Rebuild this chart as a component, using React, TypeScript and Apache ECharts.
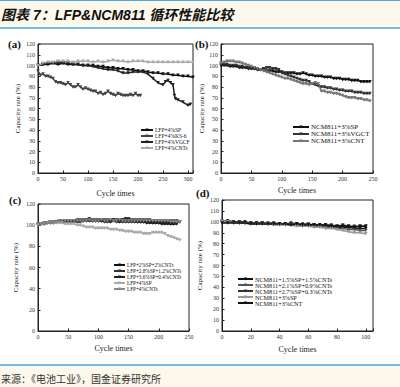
import React, { useEffect, useRef } from "react";
import * as echarts from "echarts";

// ---------- data ----------
// (a) LFP, cycles every 10 (SP, CNTs), every 5 (KS-6), explicit (VGCF)
const aSP = [100,101,101,102,101,102,101,101,101,100,100,100,99,99,98,98,97,97,96,96,95,95,94,93,93,92,92,91,91,90,90,89];
const aKS6 = [95,91,92,90,90,89,88,85,84,84,83,82,84,82,80,80,82,80,78,79,78,77,76,76,74,75,73,74,76,74,73,72,74,73,72,72,72,73,72,74,72,72];
const aVGCFCycles = [0,10,20,30,40,50,60,70,80,90,100,110,120,130,140,150,160,170,180,190,200,210,220,230,240,250,255,260,265,270,273,275,280,290,300,305];
const aVGCF = [100,101,102,102,103,102,102,101,101,100,100,99,98,97,96,96,95,93,93,94,94,94,92,88,84,82,85,86,84,82,72,69,68,66,63,64];
const aCNTs = [100,102,103,103,104,104,104,103,104,104,104,103,104,103,104,105,104,104,103,104,104,104,103,103,103,103,103,103,103,103,103,103];

// (b) NCM811, cycles every 5
const bSP = [100,100,100,99,99,99,98,98,98,97,97,97,96,96,96,95,95,95,94,94,94,93,93,93,93,92,92,93,92,91,91,90,90,90,89,89,89,88,88,88,87,87,87,86,86,86,85,85,85,85];
const bVGCF = [101,101,101,100,100,100,99,99,98,98,97,97,96,96,97,98,98,97,97,96,93,92,91,90,89,88,87,86,86,85,83,82,81,80,80,79,79,78,78,77,77,76,76,76,75,75,75,74,74,74];
const bCNT = [102,103,104,104,104,103,103,102,101,100,99,98,97,96,95,94,93,92,91,90,89,88,88,87,86,85,84,83,83,82,83,84,83,76,76,75,75,74,74,73,72,71,70,70,70,69,69,68,68,67];

// (c) LFP mixes, cycles every 5
const c1 = [100,101,101,102,102,102,103,103,103,103,103,103,104,104,104,104,104,105,104,104,104,104,104,104,104,105,104,104,105,105,105,104,104,103,103,103,102,102,102,102,102,101,101,101,101,101,101];
const c2 = [101,101,102,102,103,103,103,104,104,104,104,104,104,105,105,105,105,106,105,105,105,105,105,105,105,105,105,105,105,106,106,105,105,105,105,105,105,105,104,104,104,104,104,104,104,104,104,103];
const c3 = [100,101,101,102,102,102,103,103,103,103,103,103,103,103,103,104,104,104,104,104,104,104,103,103,103,104,103,103,103,103,103,103,103,103,103,103,103,103,102,102,102,102,102,102,101,101];
const c4 = [100,101,101,102,102,102,102,102,102,101,101,101,101,100,100,99,98,98,98,97,97,97,97,97,96,96,96,95,95,94,94,94,93,93,93,92,92,92,93,93,93,93,92,90,89,88,87,86];
const c5 = [101,101,102,102,103,103,103,104,104,104,104,104,104,104,104,104,104,105,104,104,104,105,104,104,105,104,104,105,104,104,104,104,104,104,104,104,104,104,104,104,104,104,104,104,103,103,103,103];

// (d) NCM811 mixes, cycles every 4
const d1 = [100,100,100,99,99,99,99,99,98,98,98,98,98,98,97,97,97,96,96,96,95,95,95,94,94,94];
const d2 = [101,100,100,100,99,99,99,99,98,98,98,98,97,97,97,97,96,96,95,95,94,94,93,93,92,92];
const d3 = [100,101,100,100,100,99,99,99,99,99,98,98,99,98,98,98,97,97,97,97,96,97,96,96,96,96];
const d4 = [100,100,99,99,99,98,98,98,98,97,97,97,97,96,96,96,95,95,94,94,93,92,91,90,90,89];
const d5 = [99,99,99,99,99,98,98,98,98,98,98,98,97,98,97,97,97,97,97,96,96,96,96,95,96,96];

const namesA = ["LFP+4%SP", "LFP+4%KS-6", "LFP+4%VGCF", "LFP+4%CNTs"];
const namesB = ["NCM811+3%SP", "NCM811+3%VGCT", "NCM811+3%CNT"];
const namesC = ["LFP+2%SP+2%CNTs", "LFP+2.8%SP+1.2%CNTs", "LFP+3.6%SP+0.4%CNTs", "LFP+4%SP ", "LFP+4%CNTs "];
const namesD = ["NCM811+1.5%SP+1.5%CNTs", "NCM811+2.1%SP+0.9%CNTs", "NCM811+2.7%SP+0.3%CNTs", "NCM811+3%SP ", "NCM811+3%CNT "];

const TITLE = "图表 7：LFP&NCM811 循环性能比较";
const SOURCE = "来源：《电池工业》，国金证券研究所";

const SERIF = "'Liberation Serif', 'DejaVu Serif', serif";

const stepPairs = (vals: number[], step: number) => vals.map((v, i) => [i * step, v]);
const xyPairs = (xs: number[], vals: number[]) => vals.map((v, i) => [xs[i], v]);

function xAx(gi: number, max: number, interval: number, gap: number) {
  return {
    type: "value", gridIndex: gi, min: 0, max, interval,
    name: "Cycle times", nameLocation: "middle", nameGap: gap,
    nameTextStyle: { fontFamily: SERIF, fontSize: 8, color: "#222" },
    axisLine: { show: true, onZero: false, lineStyle: { color: "#222", width: 1 } },
    axisTick: { show: true, inside: true, length: 2.5, lineStyle: { color: "#222" } },
    axisLabel: { fontFamily: SERIF, fontSize: 6, color: "#333", margin: 3,
      formatter: (v: number) => (v % interval === 0 ? String(v) : "") },
    splitLine: { show: false },
  };
}
function yAx(gi: number, interval: number, gap: number) {
  return {
    type: "value", gridIndex: gi, min: 0, max: 120, interval,
    name: "Capacity rate (%)", nameLocation: "middle", nameGap: gap,
    nameTextStyle: { fontFamily: SERIF, fontSize: 7, color: "#222" },
    axisLine: { show: true, onZero: false, lineStyle: { color: "#222", width: 1 } },
    axisTick: { show: true, inside: true, length: 2.5, lineStyle: { color: "#222" } },
    axisLabel: { fontFamily: SERIF, fontSize: 6, color: "#333", margin: 3 },
    splitLine: { show: false },
  };
}
function ser(name: string, gi: number, data: number[][], color: string, width = 1.5) {
  return {
    type: "line", name, xAxisIndex: gi, yAxisIndex: gi, data,
    symbol: "triangle", symbolRotate: 180, symbolSize: 3.5, showSymbol: true,
    lineStyle: { color, width }, itemStyle: { color },
  };
}
function leg(names: string[], left: number, top: number, fs: number, lh: number, iw: number) {
  return {
    data: names, orient: "vertical", left, top, padding: 0, itemGap: 0,
    itemWidth: iw, itemHeight: 4, selectedMode: false,
    textStyle: { fontFamily: SERIF, fontSize: fs, lineHeight: lh, color: "#111", padding: [0, 0, 0, -3] },
  };
}

export default function App() {
  const ref = useRef<HTMLDivElement>(null);
  useEffect(() => {
    if (!ref.current) return;
    const chart = echarts.init(ref.current, undefined, { renderer: "svg" });
    const option = {
      animation: false,
      backgroundColor: "#fff",
      grid: [
        { left: 38, top: 44, width: 155, height: 129, show: true, borderColor: "#222", borderWidth: 1 },
        { left: 221, top: 44, width: 152, height: 129, show: true, borderColor: "#222", borderWidth: 1 },
        { left: 38, top: 204, width: 151, height: 127, show: true, borderColor: "#222", borderWidth: 1 },
        { left: 222, top: 200, width: 151, height: 131, show: true, borderColor: "#222", borderWidth: 1 },
      ],
      xAxis: [xAx(0, 310, 50, 16), xAx(1, 250, 50, 13), xAx(2, 250, 50, 13), xAx(3, 105, 20, 14)],
      yAxis: [yAx(0, 10, 17), yAx(1, 10, 16), yAx(2, 20, 19), yAx(3, 10, 19)],
      legend: [
        leg(namesA, 140, 127, 5.5, 5.7, 12),
        leg(namesB, 292, 123.5, 7, 7, 16),
        leg(namesC, 113, 262, 5.2, 6, 11),
        leg(namesD, 237, 276, 6.2, 5.6, 15),
      ],
      series: [
        ser(namesA[0], 0, stepPairs(aSP, 10), "#111"),
        ser(namesA[1], 0, stepPairs(aKS6, 5), "#444"),
        ser(namesA[2], 0, xyPairs(aVGCFCycles, aVGCF), "#222"),
        ser(namesA[3], 0, stepPairs(aCNTs, 10), "#aaa"),
        ser(namesB[0], 1, stepPairs(bSP, 5), "#111"),
        ser(namesB[1], 1, stepPairs(bVGCF, 5), "#333"),
        ser(namesB[2], 1, stepPairs(bCNT, 5), "#777"),
        ser(namesC[0], 2, stepPairs(c1, 5), "#111"),
        ser(namesC[1], 2, stepPairs(c2, 5), "#333"),
        ser(namesC[2], 2, stepPairs(c3, 5), "#222"),
        ser(namesC[3], 2, stepPairs(c4, 5), "#aaa"),
        ser(namesC[4], 2, stepPairs(c5, 5), "#888"),
        ser(namesD[0], 3, stepPairs(d1, 4), "#111"),
        ser(namesD[1], 3, stepPairs(d2, 4), "#555"),
        ser(namesD[2], 3, stepPairs(d3, 4), "#333"),
        ser(namesD[3], 3, stepPairs(d4, 4), "#999"),
        ser(namesD[4], 3, stepPairs(d5, 4), "#111"),
      ],
      graphic: [
        { type: "rect", shape: { x: 0, y: 0, width: 400, height: 28 }, style: { fill: "#fdf8ec" }, z: -1 },
        { type: "line", shape: { x1: 0, y1: 0.5, x2: 400, y2: 0.5 }, style: { stroke: "#4da6db", lineWidth: 1 } },
        { type: "line", shape: { x1: 0, y1: 28, x2: 400, y2: 28 }, style: { stroke: "#4da6db", lineWidth: 1.5 } },
        { type: "text", x: 1, y: 15, style: { text: TITLE, fontSize: 14, fontWeight: "bold", fontStyle: "italic",
          fontFamily: "'Liberation Sans', 'Noto Sans CJK SC', sans-serif", fill: "#111", textVerticalAlign: "middle" } },
        { type: "rect", shape: { x: 0, y: 365, width: 400, height: 22 }, style: { fill: "#fdf8ec" }, z: -1 },
        { type: "line", shape: { x1: 0, y1: 365, x2: 400, y2: 365 }, style: { stroke: "#4da6db", lineWidth: 1.5 } },
        { type: "text", x: 1, y: 378, style: { text: SOURCE, fontSize: 10,
          fontFamily: "'Noto Sans CJK SC', sans-serif", fill: "#333", textVerticalAlign: "middle" } },
        { type: "text", x: 8, y: 44, style: { text: "(a)", fontSize: 11, fontWeight: "bold", fontFamily: SERIF, fill: "#111", textVerticalAlign: "middle" } },
        { type: "text", x: 195, y: 44, style: { text: "(b)", fontSize: 11, fontWeight: "bold", fontFamily: SERIF, fill: "#111", textVerticalAlign: "middle" } },
        { type: "text", x: 9, y: 200, style: { text: "(c)", fontSize: 11, fontWeight: "bold", fontFamily: SERIF, fill: "#111", textVerticalAlign: "middle" } },
        { type: "text", x: 196, y: 193, style: { text: "(d)", fontSize: 11, fontWeight: "bold", fontFamily: SERIF, fill: "#111", textVerticalAlign: "middle" } },
      ],
    };
    chart.setOption(option as any);
    return () => chart.dispose();
  }, []);
  return <div ref={ref} style={{ position: "absolute", left: 0, top: 0, width: 400, height: 387 }} />;
}
